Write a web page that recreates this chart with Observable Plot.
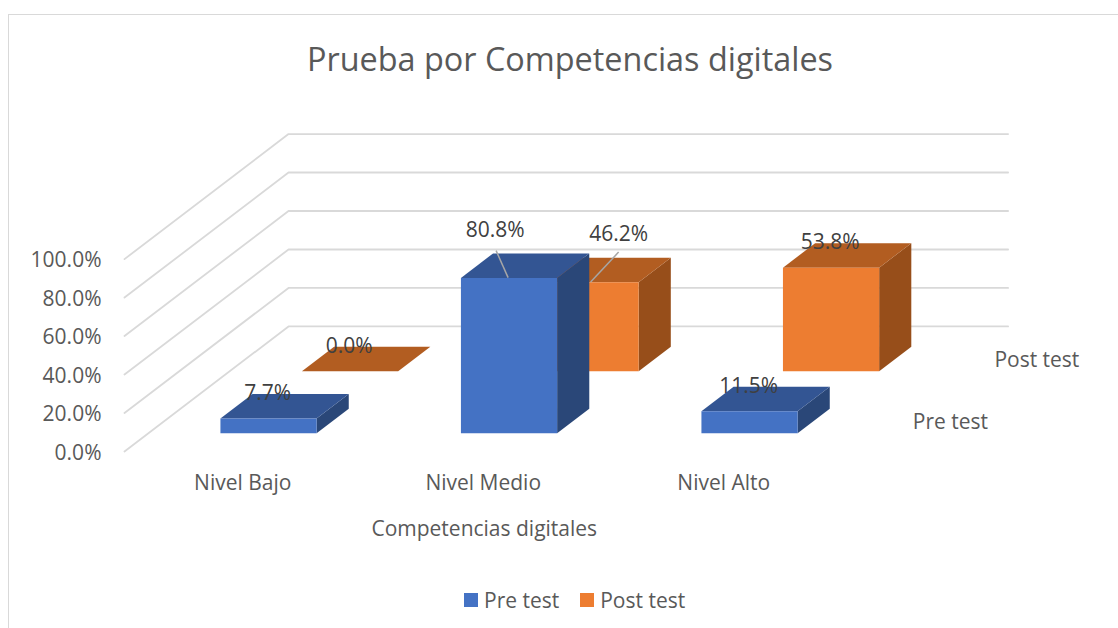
<!DOCTYPE html>
<html>
<head>
<meta charset="utf-8">
<script src="https://cdn.jsdelivr.net/npm/d3@7"></script>
<script src="https://cdn.jsdelivr.net/npm/@observablehq/plot@0.6"></script>
<style>
  html, body { margin: 0; padding: 0; background: #fff; overflow: hidden; }
  #chart { position: relative; width: 1118px; height: 628px; font-family: "Open Sans", sans-serif; color: #595959; }
  #frame { position: absolute; left: 8px; top: 14px; right: -4px; bottom: -4px; border: 1.5px solid #d9d9d9; }
  #title { position: absolute; left: 0; top: 35px; width: 1140px; text-align: center; font-size: 32.4px; line-height: 46px; }
  #plot { position: absolute; left: 0; top: 90px; }
  #legend { position: absolute; left: 464px; top: 586px; display: flex; align-items: center; font-size: 21px; line-height: 28px; }
  #legend i { display: inline-block; width: 14px; height: 14px; margin-right: 6px; }
  #legend span { margin-right: 21px; }
</style>
</head>
<body>
<div id="chart">
  <div id="frame"></div>
  <div id="title"></div>
  <div id="plot"></div>
  <div id="legend"></div>
</div>
<script>
const title = "Prueba por Competencias digitales";
const axisTitle = "Competencias digitales";
const categories = ["Nivel Bajo", "Nivel Medio", "Nivel Alto"];
const seriesNames = ["Pre test", "Post test"];
const preTest = [7.7, 80.8, 11.5];
const postTest = [0.0, 46.2, 53.8];
const valueTicks = [0, 20, 40, 60, 80, 100];
const frontColors = ["#4472C4", "#ED7D31"];
const topColors = ["#335593", "#B25D21"];
const sideColors = ["#2A4778", "#974E1A"];

// Oblique projection: depth d (0 = front of floor, 1 = back wall) shifts
// a point along both data axes, so everything still goes through the scales.
const shiftX = 0.682, shiftV = 65;
const barWidth = 0.4, depthCentre = [0.243, 0.74], depthHalf = 0.098;
const X = (u, d) => u + d * shiftX;
const V = (v, d) => v + d * shiftV;

const values = [preTest, postTest];
const bars = [];
[1, 0].forEach(s => categories.forEach((c, i) => {
  bars.push({s, i, c, v: values[s][i]});
}));

const polys = [];
for (const b of bars) {
  const l = b.i + 0.5 - barWidth / 2, r = l + barWidth;
  const d0 = depthCentre[b.s] - depthHalf, d1 = depthCentre[b.s] + depthHalf;
  const face = (name, fill, pts) => pts.forEach(([u, v, d]) =>
    polys.push({id: `${b.s}-${b.i}-${name}`, x: X(u, d), y: V(v, d), fill}));
  face("side", sideColors[b.s], [[r, 0, d0], [r, 0, d1], [r, b.v, d1], [r, b.v, d0]]);
  face("top", topColors[b.s], [[l, b.v, d0], [r, b.v, d0], [r, b.v, d1], [l, b.v, d1]]);
  if (b.v > 0) face("front", frontColors[b.s], [[l, 0, d0], [r, 0, d0], [r, b.v, d0], [l, b.v, d0]]);
}

const grid = [];
for (const v of valueTicks) {
  grid.push({id: v, x: X(0, 0), y: V(v, 0)}, {id: v, x: X(0, 1), y: V(v, 1)}, {id: v, x: X(2.992, 1), y: V(v, 1)});
}

const anchors = bars.map(b => ({
  ...b,
  label: b.v.toFixed(1) + "%",
  x: X(b.i + 0.5, depthCentre[b.s]),
  y: V(b.v, depthCentre[b.s])
}));
const leader = b => b.i === 1;
const labelStyle = {x: "x", y: "y", text: "label", fill: "#404040", fontSize: 21, textAnchor: "middle"};
const pxX = 1 / 240.5, pxV = 1 / 1.924;
const leaderOffsets = s => s === 0 ? [-29, 15, -17, -12] : [12, 18, -16, -12];

const chart = Plot.plot({
  width: 1118,
  height: 450,
  marginLeft: 124, marginRight: 0, marginTop: 0, marginBottom: 89,
  style: {fontFamily: "'Open Sans', sans-serif", fontSize: "21px", color: "#595959", background: "transparent", overflow: "visible"},
  x: {domain: [0, 994 / 240.5], axis: null},
  y: {domain: [0, 361 / 1.924], axis: null},
  color: {type: "identity"},
  marks: [
    Plot.line(grid, {x: "x", y: "y", z: "id", stroke: "#D9D9D9", strokeWidth: 1.8}),
    Plot.axisY({ticks: valueTicks, tickFormat: d => d.toFixed(1) + "%", tickSize: 0, tickPadding: 23, label: null, fontSize: 21, dy: 1.5}),
    Plot.axisX({ticks: categories.map((c, i) => i + 0.5), tickFormat: d => categories[Math.floor(d)], tickSize: 0, tickPadding: 24, label: null, fontSize: 21, dx: -2}),
    Plot.text([axisTitle], {x: () => 1.5, y: () => 0, text: d => d, dy: 78, dx: -1, fontSize: 21, fill: "#595959"}),
    Plot.line(polys, {x: "x", y: "y", z: "id", fill: "fill", stroke: "none"}),
    Plot.link(anchors.filter(leader), {
      x1: b => b.x + leaderOffsets(b.s)[0] * pxX, y1: b => b.y + leaderOffsets(b.s)[1] * pxV,
      x2: b => b.x + leaderOffsets(b.s)[2] * pxX, y2: b => b.y + leaderOffsets(b.s)[3] * pxV,
      stroke: "#A6A6A6", strokeWidth: 1.5
    }),
    Plot.text(anchors.filter(b => !leader(b)), {...labelStyle, dx: -17, dy: -13}),
    Plot.text(anchors.filter(b => leader(b) && b.s === 0), {...labelStyle, dx: -30, dy: -35}),
    Plot.text(anchors.filter(b => leader(b) && b.s === 1), {...labelStyle, dx: 12, dy: -36}),
    Plot.text(seriesNames, {
      x: (d, i) => X(3, depthCentre[i]), y: (d, i) => V(0, depthCentre[i]),
      text: d => d, textAnchor: "start", dx: 27, dy: 1.5, fontSize: 21, fill: "#595959"
    })
  ]
});
document.getElementById("plot").append(chart);
document.getElementById("title").textContent = title;
document.getElementById("legend").innerHTML = seriesNames
  .map((n, i) => `<i style="background:${frontColors[i]}"></i><span>${n}</span>`).join("");
</script>
</body>
</html>
